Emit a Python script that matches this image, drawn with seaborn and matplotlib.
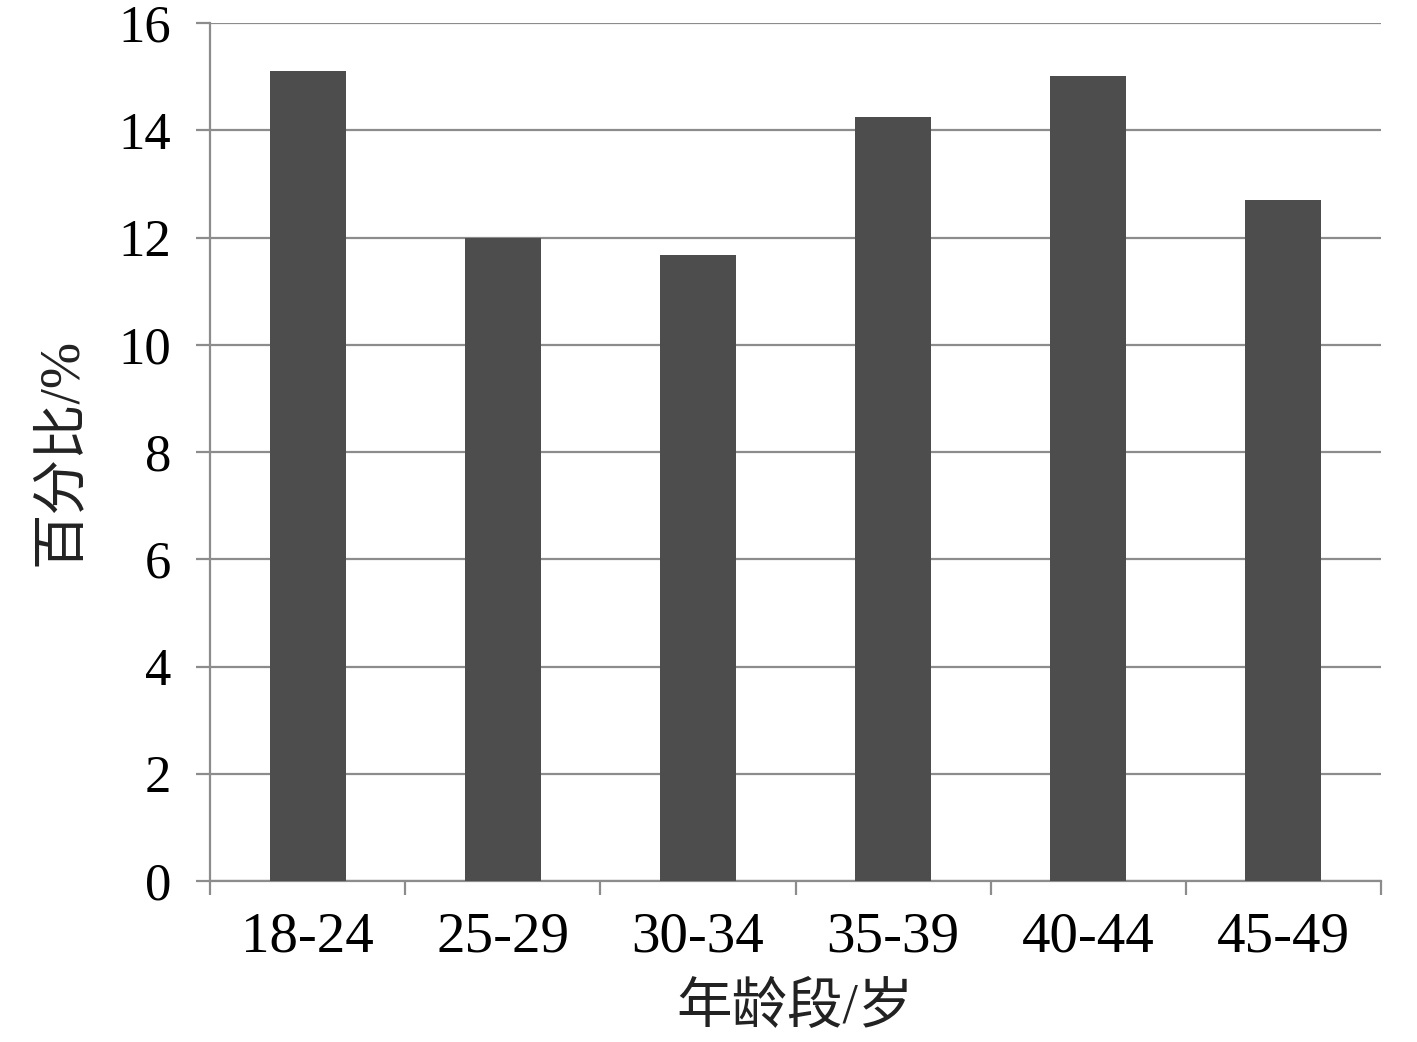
import matplotlib
matplotlib.use('Agg')
import matplotlib.pyplot as plt
import seaborn as sns
import numpy as np
from pandas import DataFrame

# data
age_groups = ["18-24", "25-29", "30-34", "35-39", "40-44", "45-49"]
percent = [15.1, 12.0, 11.67, 14.24, 15.02, 12.7]

sns.set_theme(style="white")
plt.rcParams['font.family'] = ['Liberation Serif', 'Noto Sans CJK SC']

df = DataFrame({"age": age_groups, "pct": percent})

fig = plt.figure(figsize=(14.17, 10.42), dpi=100)
ax = fig.add_axes([0.1482, 0.1545, 0.8264, 0.8234])

grid_c = '#8c8c8c'
sns.barplot(data=df, x="age", y="pct", color='#4d4d4d', width=0.39,
            saturation=1, edgecolor='none', ax=ax, zorder=3)

ax.set_ylim(0, 16)
ax.set_xlim(-0.5, len(age_groups) - 0.5)
ax.set_yticks(np.arange(0, 17, 2))
ax.yaxis.grid(True, color=grid_c, linewidth=1.6, zorder=0)
ax.set_axisbelow(True)

# category boundary ticks on the x axis
ax.set_xticks(np.arange(-0.5, len(age_groups)), minor=True)
ax.tick_params(axis='x', which='major', length=0, pad=22, labelsize=41, labelcolor='black')
ax.tick_params(axis='x', which='minor', length=10, width=1.6, color=grid_c, direction='out', bottom=True)
ax.tick_params(axis='y', length=10, width=1.6, color=grid_c, direction='out', left=True,
               pad=18, labelsize=38, labelcolor='black')

for s in ['top', 'right']:
    ax.spines[s].set_visible(False)
for s in ['left', 'bottom']:
    ax.spines[s].set_color(grid_c)
    ax.spines[s].set_linewidth(1.6)

ax.set_xlabel("年龄段/岁", fontsize=40, labelpad=14, color='#222222')
ax.set_ylabel("百分比/%", fontsize=40, labelpad=22, color='#222222')

fig.savefig("out.png", dpi=100)
